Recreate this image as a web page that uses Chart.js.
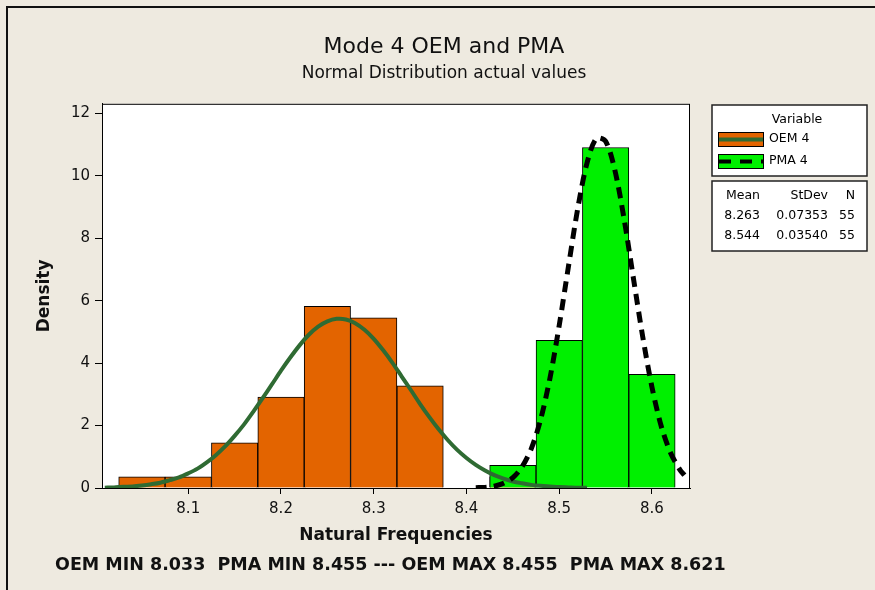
<!DOCTYPE html>
<html lang="en">
<head>
<meta charset="UTF-8">
<title>Mode 4 OEM and PMA</title>
<script src="https://cdn.jsdelivr.net/npm/chart.js"></script>
<style>
    html, body { margin: 0; padding: 0; background: #EEEAE0; }
    #wrap { width: 875px; height: 590px; }
</style>
</head>
<body>
<div id="wrap"><canvas id="histChart" width="875" height="590"></canvas></div>

<script>
// histogram bins (bin centres, width 0.05) and density heights
const oemCenters = [8.05, 8.10, 8.15, 8.20, 8.25, 8.30, 8.35, 8.45];
const oemDensity = [0.36, 0.36, 1.45, 2.91, 5.82, 5.45, 3.27, 0.36];
const pmaCenters = [8.45, 8.50, 8.55, 8.60];
const pmaDensity = [0.73, 4.73, 10.91, 3.64];

// fitted normal curves
const oemFitX = [8.01, 8.02, 8.03, 8.04, 8.05, 8.06, 8.07, 8.08, 8.09, 8.10,
                 8.11, 8.12, 8.13, 8.14, 8.15, 8.16, 8.17, 8.18, 8.19, 8.20,
                 8.21, 8.22, 8.23, 8.24, 8.25, 8.26, 8.27, 8.28, 8.29, 8.30,
                 8.31, 8.32, 8.33, 8.34, 8.35, 8.36, 8.37, 8.38, 8.39, 8.40,
                 8.41, 8.42, 8.43, 8.44, 8.45, 8.46, 8.47, 8.48, 8.49, 8.50,
                 8.51, 8.52, 8.53];
const oemFitY = [0.01, 0.02, 0.04, 0.05, 0.08, 0.12, 0.17, 0.25, 0.34, 0.47,
                 0.62, 0.82, 1.06, 1.34, 1.67, 2.03, 2.44, 2.87, 3.31, 3.76,
                 4.18, 4.57, 4.91, 5.17, 5.34, 5.42, 5.40, 5.28, 5.07, 4.78,
                 4.42, 4.02, 3.58, 3.14, 2.69, 2.27, 1.88, 1.53, 1.22, 0.96,
                 0.74, 0.56, 0.41, 0.30, 0.21, 0.15, 0.10, 0.07, 0.05, 0.03,
                 0.02, 0.01, 0.01];
const pmaFitX = [8.41, 8.42, 8.43, 8.44, 8.45, 8.46, 8.47, 8.48, 8.49, 8.50,
                 8.51, 8.52, 8.53, 8.54, 8.55, 8.56, 8.57, 8.58, 8.59, 8.60,
                 8.61, 8.62, 8.63, 8.635];
const pmaFitY = [0.01, 0.02, 0.06, 0.15, 0.33, 0.68, 1.27, 2.20, 3.52, 5.21,
                 7.11, 8.96, 10.42, 11.20, 11.11, 10.18, 8.61, 6.72, 4.85, 3.23,
                 1.98, 1.13, 0.59, 0.41];

const xTicks = [8.1, 8.2, 8.3, 8.4, 8.5, 8.6];
const yTicks = [0, 2, 4, 6, 8, 10, 12];

const statHeader = ['Mean', 'StDev', 'N'];
const statRows = [
    ['8.263', '0.07353', '55'],
    ['8.544', '0.03540', '55']
];
const footNote = 'OEM MIN 8.033  PMA MIN 8.455 --- OEM MAX 8.455  PMA MAX 8.621';

const ORANGE = '#E36400';
const GREEN = '#00F000';
const CURVE = '#2F6B33';
const FONT = '"DejaVu Sans", Tahoma, sans-serif';

const toPoints = (xs, ys) => xs.map((x, i) => ({ x: x, y: ys[i] }));

// background, frame, legend boxes and footnote
const minitabPlugin = {
    id: 'minitab',
    beforeDraw(chart) {
        const c = chart.ctx;
        const a = chart.chartArea;
        c.save();
        c.fillStyle = '#EEEAE0';
        c.fillRect(0, 0, chart.width, chart.height);
        c.strokeStyle = '#111';
        c.lineWidth = 2;
        c.beginPath();
        c.moveTo(7, chart.height);
        c.lineTo(7, 7);
        c.lineTo(chart.width, 7);
        c.stroke();
        c.fillStyle = '#fff';
        c.fillRect(a.left, a.top, a.right - a.left, a.bottom - a.top);
        c.restore();
    },
    afterDraw(chart) {
        const c = chart.ctx;
        const a = chart.chartArea;
        c.save();
        c.strokeStyle = '#000';
        c.lineWidth = 1;
        c.strokeRect(a.left + 0.5, a.top + 0.5, a.right - a.left - 1, a.bottom - a.top);

        // legend box
        c.fillStyle = '#fff';
        c.fillRect(712, 105, 155, 71);
        c.strokeStyle = '#222';
        c.lineWidth = 1.5;
        c.strokeRect(712, 105, 155, 71);
        c.fillStyle = '#000';
        c.font = '12.5px ' + FONT;
        c.textBaseline = 'middle';
        c.textAlign = 'center';
        c.fillText('Variable', 797, 120);

        c.lineWidth = 1;
        c.fillStyle = ORANGE;
        c.fillRect(718, 132, 45, 14);
        c.strokeStyle = '#000';
        c.strokeRect(718.5, 132.5, 45, 14);
        c.strokeStyle = CURVE;
        c.lineWidth = 4;
        c.beginPath(); c.moveTo(719, 139.5); c.lineTo(763, 139.5); c.stroke();

        c.fillStyle = GREEN;
        c.fillRect(718, 154, 45, 14);
        c.strokeStyle = '#000';
        c.lineWidth = 1;
        c.strokeRect(718.5, 154.5, 45, 14);
        c.lineWidth = 4;
        c.setLineDash([12, 9]);
        c.beginPath(); c.moveTo(719, 161.5); c.lineTo(763, 161.5); c.stroke();
        c.setLineDash([]);

        c.fillStyle = '#000';
        c.textAlign = 'left';
        c.fillText('OEM 4', 769, 139);
        c.fillText('PMA 4', 769, 161);

        // stats box
        c.fillStyle = '#fff';
        c.fillRect(712, 181, 155, 70);
        c.strokeStyle = '#222';
        c.lineWidth = 1.5;
        c.strokeRect(712, 181, 155, 70);
        c.fillStyle = '#000';
        const colX = [760, 828, 855];
        const rows = [statHeader].concat(statRows);
        rows.forEach((row, r) => {
            const y = 196 + r * 20;
            row.forEach((txt, k) => {
                c.textAlign = 'right';
                c.fillText(txt, colX[k], y);
            });
        });

        // footnote
        c.font = 'bold 17.5px ' + FONT;
        c.textAlign = 'left';
        c.fillStyle = '#111';
        c.fillText(footNote, 55, 565);
        c.restore();
    }
};

const ctx = document.getElementById('histChart').getContext('2d');

new Chart(ctx, {
    type: 'bar',
    data: {
        datasets: [
            {
                type: 'line',
                label: 'PMA 4 fit',
                data: toPoints(pmaFitX, pmaFitY),
                borderColor: '#000',
                borderWidth: 5,
                borderDash: [11, 7],
                pointRadius: 0,
                tension: 0.3,
                fill: false,
                order: 0
            },
            {
                type: 'line',
                label: 'OEM 4 fit',
                data: toPoints(oemFitX, oemFitY),
                borderColor: CURVE,
                borderWidth: 4,
                pointRadius: 0,
                tension: 0.3,
                fill: false,
                order: 1
            },
            {
                label: 'PMA 4',
                data: toPoints(pmaCenters, pmaDensity),
                backgroundColor: GREEN,
                borderColor: '#000',
                borderWidth: 1,
                grouped: false,
                barPercentage: 1,
                categoryPercentage: 1,
                order: 2
            },
            {
                label: 'OEM 4',
                data: toPoints(oemCenters, oemDensity),
                backgroundColor: ORANGE,
                borderColor: '#000',
                borderWidth: 1,
                grouped: false,
                barPercentage: 1,
                categoryPercentage: 1,
                order: 3
            }
        ]
    },
    options: {
        responsive: false,
        animation: false,
        layout: { padding: { left: 30, right: 17, top: 0, bottom: 40 } },
        plugins: {
            legend: { display: false },
            tooltip: { enabled: false },
            title: {
                display: true,
                text: 'Mode 4 OEM and PMA',
                color: '#111',
                font: { family: FONT, size: 22, weight: 'normal' },
                padding: { top: 34, bottom: 1 }
            },
            subtitle: {
                display: true,
                text: 'Normal Distribution actual values',
                color: '#111',
                font: { family: FONT, size: 17 },
                padding: { top: 2, bottom: 20 }
            }
        },
        scales: {
            x: {
                type: 'linear',
                min: 8.007,
                max: 8.641,
                offset: false,
                afterFit: s => { s.height = 62; },
                afterBuildTicks: s => { s.ticks = xTicks.map(v => ({ value: v })); },
                ticks: {
                    callback: v => v.toFixed(1),
                    color: '#111',
                    font: { family: FONT, size: 15 },
                    padding: 6
                },
                grid: { offset: false, drawOnChartArea: false, drawTicks: true, tickLength: 6, tickColor: '#000' },
                border: { color: '#000', width: 1 },
                title: {
                    display: true,
                    text: 'Natural Frequencies',
                    color: '#111',
                    font: { family: FONT, size: 17, weight: 'bold' }
                }
            },
            y: {
                min: 0,
                max: 12.31,
                afterFit: s => { s.width = 72; },
                afterBuildTicks: s => { s.ticks = yTicks.map(v => ({ value: v })); },
                ticks: {
                    color: '#111',
                    font: { family: FONT, size: 15 },
                    padding: 5
                },
                grid: { drawOnChartArea: false, drawTicks: true, tickLength: 7, tickColor: '#000' },
                border: { color: '#000', width: 1 },
                title: {
                    display: true,
                    text: 'Density',
                    color: '#111',
                    font: { family: FONT, size: 17, weight: 'bold' }
                }
            },
            // empty right-hand axis that keeps room for the legend boxes
            side: {
                position: 'right',
                min: 0,
                max: 1,
                afterFit: s => { s.width = 168; },
                ticks: { display: false },
                grid: { display: false },
                border: { display: false }
            }
        }
    },
    plugins: [minitabPlugin]
});
</script>
</body>
</html>
